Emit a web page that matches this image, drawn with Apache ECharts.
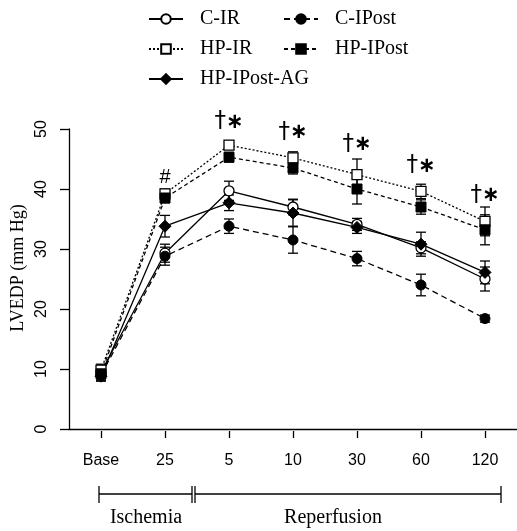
<!DOCTYPE html>
<html lang="en">
<head>
    <meta charset="UTF-8">
    <title>LVEDP</title>
    <script src="https://cdn.jsdelivr.net/npm/echarts@6/dist/echarts.min.js"></script>
    <style>
        html, body { margin: 0; padding: 0; background: #fff; }
        #main { width: 517px; height: 531px; }
    </style>
</head>
<body>
<div id="main"></div>
<script type="text/javascript">
    // time points
    var categories = ['Base', '25', '5', '10', '30', '60', '120'];

    // mean values (mm Hg)
    var cIR       = [9.5, 29.3, 39.7, 37.0, 34.1, 30.2, 25.0];
    var cIPost    = [9.0, 28.8, 33.8, 31.5, 28.4, 24.0, 18.4];
    var hpIR      = [9.8, 39.2, 47.3, 45.2, 42.4, 39.6, 34.6];
    var hpIPost   = [9.2, 38.5, 45.3, 43.5, 40.0, 37.0, 33.2];
    var hpIPostAG = [8.8, 33.8, 37.7, 36.0, 33.6, 30.8, 26.1];

    // error bars (+/-)
    var cIRErr       = [1.0, 1.5, 1.6, 1.3, 1.0, 1.0, 2.0];
    var cIPostErr    = [1.0, 1.5, 1.2, 2.2, 1.2, 1.8, 0.6];
    var hpIRErr      = [1.0, 0.8, 0.7, 1.0, 2.6, 1.2, 2.4];
    var hpIPostErr   = [1.0, 0.8, 0.8, 1.0, 2.5, 1.2, 2.5];
    var hpIPostAGErr = [0.8, 1.8, 1.3, 2.2, 1.0, 2.0, 1.9];

    // significance marks
    var annotCats   = ['25', '5', '10', '30', '60', '120'];
    var annotValues = [42.0, 51.5, 49.8, 47.8, 44.2, 39.3];
    var annotText   = ['#', '†*', '†*', '†*', '†*', '†*'];

    var yTicks = [0, 10, 20, 30, 40, 50];

    var myChart = echarts.init(document.getElementById('main'));

    var groups = [
        {name: 'C-IR', data: cIR, err: cIRErr, symbol: 'circle', open: true, line: 'solid'},
        {name: 'C-IPost', data: cIPost, err: cIPostErr, symbol: 'circle', open: false, line: [6, 4]},
        {name: 'HP-IR', data: hpIR, err: hpIRErr, symbol: 'rect', open: true, line: [2, 2]},
        {name: 'HP-IPost', data: hpIPost, err: hpIPostErr, symbol: 'rect', open: false, line: [4, 3]},
        {name: 'HP-IPost-AG', data: hpIPostAG, err: hpIPostAGErr, symbol: 'diamond', open: false, line: 'solid'}
    ];

    // error bar renderer
    function errorBars(values, errs) {
        return {
            type: 'custom',
            silent: true,
            z: 1,
            data: values.map(function (v, i) { return [i, v - errs[i], v + errs[i]]; }),
            renderItem: function (params, api) {
                var lo = api.coord([api.value(0), api.value(1)]);
                var hi = api.coord([api.value(0), api.value(2)]);
                var w = 5;
                var st = {stroke: '#000', lineWidth: 1.3};
                return {
                    type: 'group',
                    children: [
                        {type: 'line', shape: {x1: lo[0], y1: lo[1], x2: hi[0], y2: hi[1]}, style: st},
                        {type: 'line', shape: {x1: lo[0] - w, y1: lo[1], x2: lo[0] + w, y2: lo[1]}, style: st},
                        {type: 'line', shape: {x1: hi[0] - w, y1: hi[1], x2: hi[0] + w, y2: hi[1]}, style: st}
                    ]
                };
            }
        };
    }

    var series = [];
    groups.forEach(function (g) {
        series.push(errorBars(g.data, g.err));
    });
    groups.forEach(function (g) {
        series.push({
            name: g.name,
            type: 'line',
            data: g.data,
            z: 3,
            symbol: g.symbol,
            symbolSize: g.symbol === 'diamond' ? 12 : 10,
            showAllSymbol: true,
            itemStyle: g.open ? {color: '#fff', borderColor: '#000', borderWidth: 1.3}
                              : {color: '#000', borderColor: '#000', borderWidth: 1},
            lineStyle: {color: '#000', width: 1.3, type: g.line},
            emphasis: {disabled: true}
        });
    });
    series.push({
        type: 'scatter',
        clip: false,
        silent: true,
        symbolSize: 0,
        itemStyle: {color: '#000', opacity: 1},
        data: annotCats.map(function (c, i) { return [c, annotValues[i]]; }),
        label: {
            show: true,
            position: 'inside',
            color: '#000',
            textBorderWidth: 0,
            formatter: function (p) {
                var t = annotText[p.dataIndex];
                if (t === '#') return '{h|#}';
                return '{d|†}{s|∗}';
            },
            rich: {
                h: {fontFamily: 'Liberation Sans', fontSize: 20, color: '#000', textBorderWidth: 0},
                d: {fontFamily: 'DejaVu Sans', fontSize: 23, color: '#000', textBorderWidth: 0,
                    lineHeight: 26, verticalAlign: 'bottom'},
                s: {fontFamily: 'DejaVu Sans', fontSize: 21, fontWeight: 'bold', color: '#000',
                    textBorderWidth: 0, lineHeight: 26, verticalAlign: 'bottom', padding: [3, 0, 0, 0]}
            }
        }
    });

    var legendText = {fontFamily: 'Liberation Serif', fontSize: 20, color: '#000', padding: [0, 0, 0, 12]};

    var option = {
        animation: false,
        backgroundColor: '#fff',
        legend: [
            {
                data: ['C-IR', 'HP-IR', 'HP-IPost-AG'],
                orient: 'vertical', left: 143, top: 4,
                itemWidth: 34, itemHeight: 12, itemGap: 10,
                textStyle: legendText, selectedMode: false
            },
            {
                data: ['C-IPost', 'HP-IPost'],
                orient: 'vertical', left: 278, top: 4,
                itemWidth: 34, itemHeight: 12, itemGap: 10,
                textStyle: legendText, selectedMode: false
            }
        ],
        grid: {left: 69, top: 129, width: 451, height: 300},
        xAxis: [
            {
                type: 'category', data: categories, boundaryGap: true,
                axisLine: {lineStyle: {color: '#000', width: 1.3}},
                axisTick: {show: false}, axisLabel: {show: false}
            },
            {
                type: 'category', data: categories, boundaryGap: true, position: 'bottom', offset: 2,
                axisLine: {show: false},
                axisTick: {show: true, alignWithLabel: true, length: 7, lineStyle: {color: '#000', width: 1.3}},
                axisLabel: {margin: 22, fontFamily: 'Liberation Sans', fontSize: 16, color: '#000'}
            }
        ],
        yAxis: {
            type: 'value', min: yTicks[0], max: yTicks[yTicks.length - 1], interval: 10,
            axisLine: {show: true, lineStyle: {color: '#000', width: 1.3}},
            axisTick: {show: true, length: 9, lineStyle: {color: '#000', width: 1.3}},
            axisLabel: {rotate: 90, margin: 19, fontFamily: 'Liberation Sans', fontSize: 16, color: '#000'},
            splitLine: {show: false}
        },
        graphic: [
            {type: 'text', x: 18, y: 268, rotation: Math.PI / 2,
                style: {text: 'LVEDP (mm Hg)', fontFamily: 'Liberation Serif', fontSize: 18, fill: '#000',
                    textAlign: 'center', textVerticalAlign: 'middle'}},
            // Ischemia bracket
            {type: 'line', shape: {x1: 99, y1: 494, x2: 192, y2: 494}, style: {stroke: '#000', lineWidth: 1.3}},
            {type: 'line', shape: {x1: 99, y1: 486, x2: 99, y2: 503}, style: {stroke: '#000', lineWidth: 1.3}},
            {type: 'line', shape: {x1: 192, y1: 486, x2: 192, y2: 503}, style: {stroke: '#000', lineWidth: 1.3}},
            // Reperfusion bracket
            {type: 'line', shape: {x1: 195, y1: 494, x2: 501, y2: 494}, style: {stroke: '#000', lineWidth: 1.3}},
            {type: 'line', shape: {x1: 195, y1: 486, x2: 195, y2: 503}, style: {stroke: '#000', lineWidth: 1.3}},
            {type: 'line', shape: {x1: 501, y1: 486, x2: 501, y2: 503}, style: {stroke: '#000', lineWidth: 1.3}},
            {type: 'text', x: 146, y: 518,
                style: {text: 'Ischemia', fontFamily: 'Liberation Serif', fontSize: 20, fill: '#000',
                    textAlign: 'center', textVerticalAlign: 'middle'}},
            {type: 'text', x: 333, y: 518,
                style: {text: 'Reperfusion', fontFamily: 'Liberation Serif', fontSize: 20, fill: '#000',
                    textAlign: 'center', textVerticalAlign: 'middle'}}
        ],
        series: series
    };

    myChart.setOption(option);
</script>
</body>
</html>
